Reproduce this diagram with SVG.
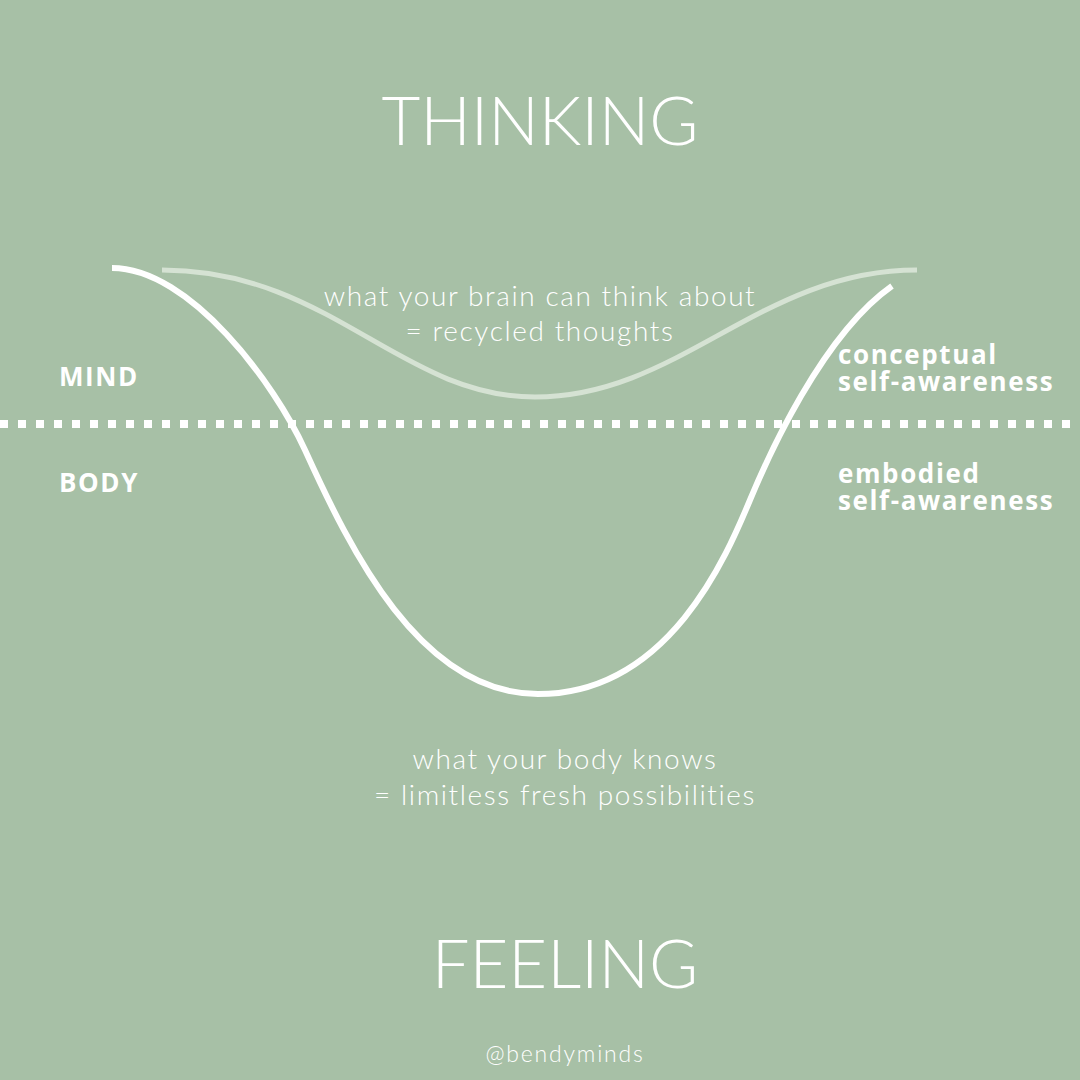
<svg xmlns="http://www.w3.org/2000/svg" width="1080" height="1080" viewBox="0 0 1080 1080">
<style>
.title{font-family:Lato,"Open Sans","DejaVu Sans",sans-serif;font-weight:300;font-size:67px;fill:#fff;text-anchor:middle}
.thin{font-family:Lato,"Open Sans","DejaVu Sans",sans-serif;font-weight:300;font-size:28px;letter-spacing:1.6px;fill:#fff;text-anchor:middle}
.bold{font-family:"Open Sans",Lato,"DejaVu Sans",sans-serif;font-weight:700;font-size:26px;letter-spacing:1.6px;fill:#fff}
.handle{font-family:Lato,"Open Sans","DejaVu Sans",sans-serif;font-weight:300;font-size:23px;letter-spacing:1.8px;fill:#fff;text-anchor:middle}
</style>
<rect width="1080" height="1080" fill="#a7c0a6"/>
<g id="connectors" fill="none">
<line id="divider" x1="0" y1="424" x2="1080" y2="424" stroke="#fff" stroke-width="8" stroke-dasharray="8 10"/>
<path id="thinking-curve" d="M162,270 C330,270 400,397 535,397 C680,397 760,270 917,270" stroke="#d5e2d3" stroke-width="5"/>
<path id="feeling-curve" d="M112,268 C190,268 275,384 305,450 C350,549 420,694 538,694 C669,694 726.9,555.4 750,500 C767.3,458.5 822,335 892,286" stroke="#fff" stroke-width="6"/>
</g>
<g id="thinking"><text class="title" x="540" y="145">THINKING</text></g>
<g id="feeling"><text class="title" x="565" y="988">FEELING</text></g>
<g id="mind"><text class="bold" x="59" y="386">MIND</text></g>
<g id="body"><text class="bold" x="59" y="492">BODY</text></g>
<g id="conceptual"><text class="bold" x="838" y="364">conceptual</text><text class="bold" x="838" y="391">self-awareness</text></g>
<g id="embodied"><text class="bold" x="838" y="483">embodied</text><text class="bold" x="838" y="510">self-awareness</text></g>
<g id="brain"><text class="thin" x="540" y="306">what your brain can think about</text><text class="thin" x="540" y="341">= recycled thoughts</text></g>
<g id="bodyknows"><text class="thin" x="565" y="769">what your body knows</text><text class="thin" x="565" y="805">= limitless fresh possibilities</text></g>
<g id="handle"><text class="handle" x="565" y="1062">@bendyminds</text></g>
</svg>
